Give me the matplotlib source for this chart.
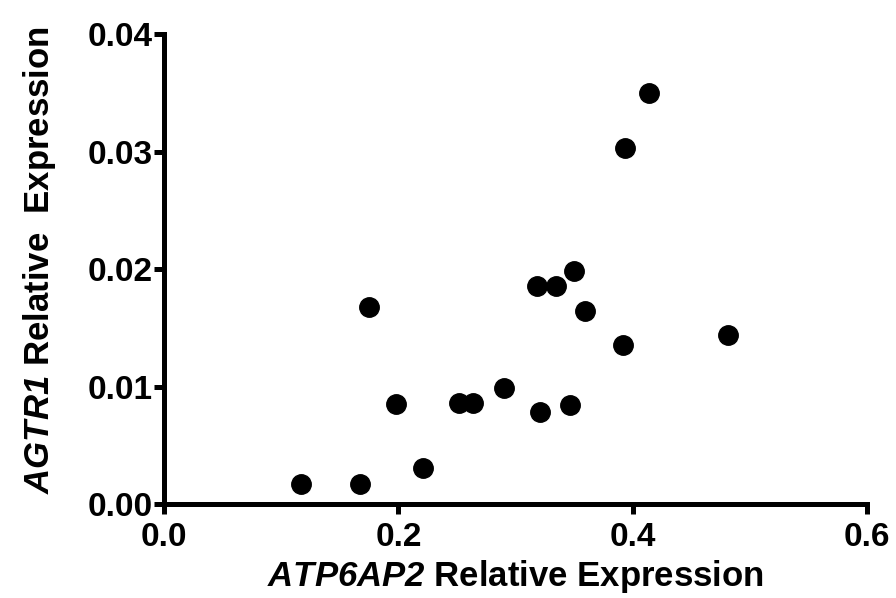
import matplotlib
matplotlib.use('Agg')
import matplotlib.pyplot as plt

# ATP6AP2 vs AGTR1 relative expression
atp6ap2 = [0.117, 0.167, 0.175, 0.198, 0.221, 0.252, 0.264, 0.290, 0.318,
           0.334, 0.350, 0.359, 0.321, 0.346, 0.392, 0.481, 0.393, 0.414]
agtr1 = [0.0017, 0.0017, 0.0168, 0.0085, 0.0031, 0.0086, 0.0086, 0.0099, 0.0186,
         0.0186, 0.0198, 0.0164, 0.0078, 0.0084, 0.0135, 0.0144, 0.0303, 0.0350]

xticks = [0.0, 0.2, 0.4, 0.6]
xtick_labels = ['0.0', '0.2', '0.4', '0.6']
yticks = [0.00, 0.01, 0.02, 0.03, 0.04]
ytick_labels = ['0.00', '0.01', '0.02', '0.03', '0.04']

plt.rcParams['font.family'] = ['Liberation Sans', 'DejaVu Sans']
plt.rcParams['font.weight'] = 'bold'
# gene names in bold italic (digits included)
plt.rcParams['mathtext.fontset'] = 'custom'
plt.rcParams['mathtext.it'] = 'Liberation Sans:italic:bold'
plt.rcParams['mathtext.rm'] = 'Liberation Sans:italic:bold'

fig = plt.figure(figsize=(8.96, 5.98), dpi=100)
ax = fig.add_axes([0.183, 0.157, 0.785, 0.786])

ax.plot(atp6ap2, agtr1, 'o', color='black', markersize=14, clip_on=False)

ax.set_xlim(0, 0.6)
ax.set_ylim(0, 0.04)
ax.set_xticks(xticks)
ax.set_xticklabels(xtick_labels)
ax.set_yticks(yticks)
ax.set_yticklabels(ytick_labels)

for side in ['top', 'right']:
    ax.spines[side].set_visible(False)
for side in ['left', 'bottom']:
    ax.spines[side].set_linewidth(3.6)
    ax.spines[side].set_capstyle('projecting')

ax.tick_params(axis='both', direction='out', length=7, width=3.6,
               labelsize=24, color='black')
ax.tick_params(axis='x', pad=6)
ax.tick_params(axis='y', pad=1)

ax.set_xlabel('$ATP6AP2$ Relative Expression', fontsize=25, fontweight='bold')
ax.set_ylabel('$AGTR1$ Relative  Expression', fontsize=25, fontweight='bold')
ax.xaxis.set_label_coords(0.5, -0.115)
ax.yaxis.set_label_coords(-0.15, 0.52)

fig.savefig('out.png', dpi=100)
